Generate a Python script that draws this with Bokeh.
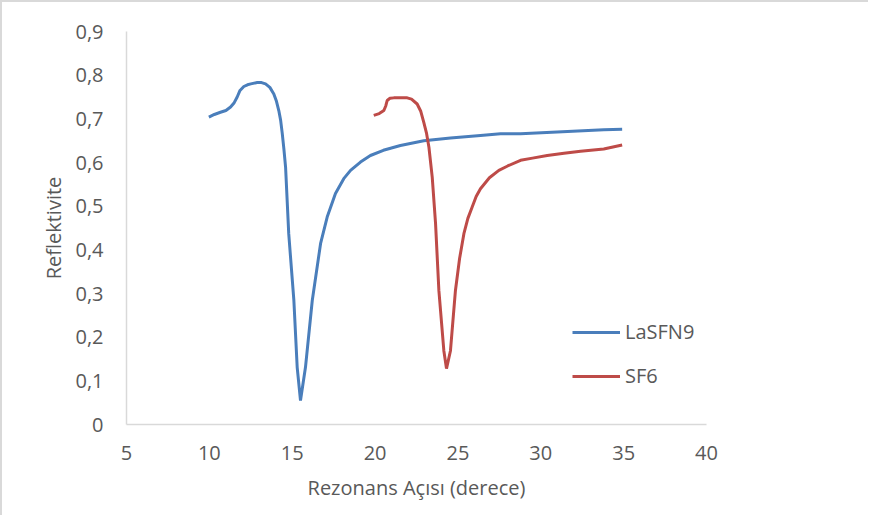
from bokeh.plotting import figure
from bokeh.models import Range1d, FixedTicker, CustomJSTickFormatter, Legend, LegendItem
from bokeh.embed import file_html
from bokeh.resources import INLINE

# LaSFN9 (blue)
lasfn9_x = [9.97, 10.3, 10.67, 11.0, 11.28, 11.5, 11.68, 11.85, 12.08, 12.3, 12.5, 12.89, 13.15, 13.39,
            13.65, 13.89, 14.05, 14.19, 14.30, 14.40, 14.50, 14.60, 14.79,
            15.10, 15.30, 15.50, 15.80, 16.21, 16.71, 17.11, 17.61, 18.11, 18.52, 19.12, 19.72,
            20.5, 21.53, 22.94, 24.55, 26.36, 27.57, 28.78, 30.99, 33.80, 34.91]
lasfn9_y = [0.704, 0.710, 0.715, 0.719, 0.727, 0.737, 0.750, 0.765, 0.774, 0.778, 0.780, 0.783, 0.783, 0.780,
            0.772, 0.757, 0.740, 0.719, 0.697, 0.666, 0.630, 0.589, 0.437,
            0.284, 0.131, 0.055, 0.131, 0.284, 0.414, 0.475, 0.529, 0.563, 0.582, 0.601, 0.616,
            0.628, 0.639, 0.650, 0.656, 0.662, 0.666, 0.666, 0.670, 0.675, 0.676]

# SF6 (red)
sf6_x = [19.92, 20.25, 20.53, 20.65, 20.73, 20.9, 21.13, 21.94, 22.2, 22.54, 22.75, 22.94, 23.1, 23.25,
         23.45, 23.65, 23.85, 24.15, 24.31, 24.55, 24.85, 25.1, 25.36, 25.6, 25.86, 26.1, 26.36, 26.9,
         27.47, 28.0, 28.78, 29.5, 30.39, 31.4, 32.40, 33.80, 34.91]
sf6_y = [0.708, 0.712, 0.719, 0.730, 0.742, 0.747, 0.748, 0.748, 0.745, 0.734, 0.718, 0.692, 0.668, 0.635,
         0.566, 0.460, 0.307, 0.169, 0.128, 0.169, 0.307, 0.380, 0.437, 0.472, 0.498, 0.522, 0.540, 0.565,
         0.582, 0.592, 0.605, 0.610, 0.616, 0.621, 0.626, 0.631, 0.640]

y_ticks = [0, 0.1, 0.2, 0.3, 0.4, 0.5, 0.6, 0.7, 0.8, 0.9]
x_ticks = [5, 10, 15, 20, 25, 30, 35, 40]

FONT = "Open Sans"
TXT = "#595959"
FS = "20px"

p = figure(width=868, height=515, output_backend="svg", toolbar_location=None,
           x_range=Range1d(5, 40), y_range=Range1d(0, 0.9),
           min_border_left=124, min_border_right=164, min_border_top=29, min_border_bottom=93)
p.outline_line_color = None
p.grid.visible = False
p.background_fill_color = "white"
p.border_fill_color = "white"

r1 = p.line(lasfn9_x, lasfn9_y, line_color="#4A7EBB", line_width=3)
r2 = p.line(sf6_x, sf6_y, line_color="#BE4B48", line_width=3)

for ax in (p.xaxis[0], p.yaxis[0]):
    ax.axis_line_color = "#D9D9D9"
    ax.axis_line_width = 1.5
    ax.major_tick_line_color = None
    ax.minor_tick_line_color = None
    ax.major_label_text_font = FONT
    ax.major_label_text_font_size = FS
    ax.major_label_text_color = TXT
    ax.axis_label_text_font = FONT
    ax.axis_label_text_font_size = FS
    ax.axis_label_text_color = TXT
    ax.axis_label_text_font_style = "normal"

p.xaxis.ticker = FixedTicker(ticks=x_ticks)
p.yaxis.ticker = FixedTicker(ticks=y_ticks)
p.yaxis.formatter = CustomJSTickFormatter(code="return tick == 0 ? '0' : tick.toFixed(1).replace('.', ',');")
p.xaxis.major_label_standoff = 15
p.yaxis.major_label_standoff = 17
p.xaxis.axis_label_standoff = 11
p.yaxis.axis_label_standoff = 5
p.xaxis.axis_label = "Rezonans Açısı (derece)"
p.yaxis.axis_label = "Reflektivite"

legend = Legend(items=[LegendItem(label="LaSFN9", renderers=[r1]),
                       LegendItem(label="SF6", renderers=[r2])],
                location=(446, 35), orientation="vertical")
legend.glyph_width = 48
legend.glyph_height = 20
legend.label_height = 20
legend.spacing = 17
legend.padding = 0
legend.margin = 0
legend.label_standoff = 5
legend.border_line_color = None
legend.background_fill_alpha = 0
legend.label_text_font = FONT
legend.label_text_font_size = FS
legend.label_text_color = TXT
p.add_layout(legend)

p.styles = {"border-left": "2px solid #D9D9D9", "border-top": "2px solid #D9D9D9"}

open("out.html", "w").write(file_html(p, INLINE))
